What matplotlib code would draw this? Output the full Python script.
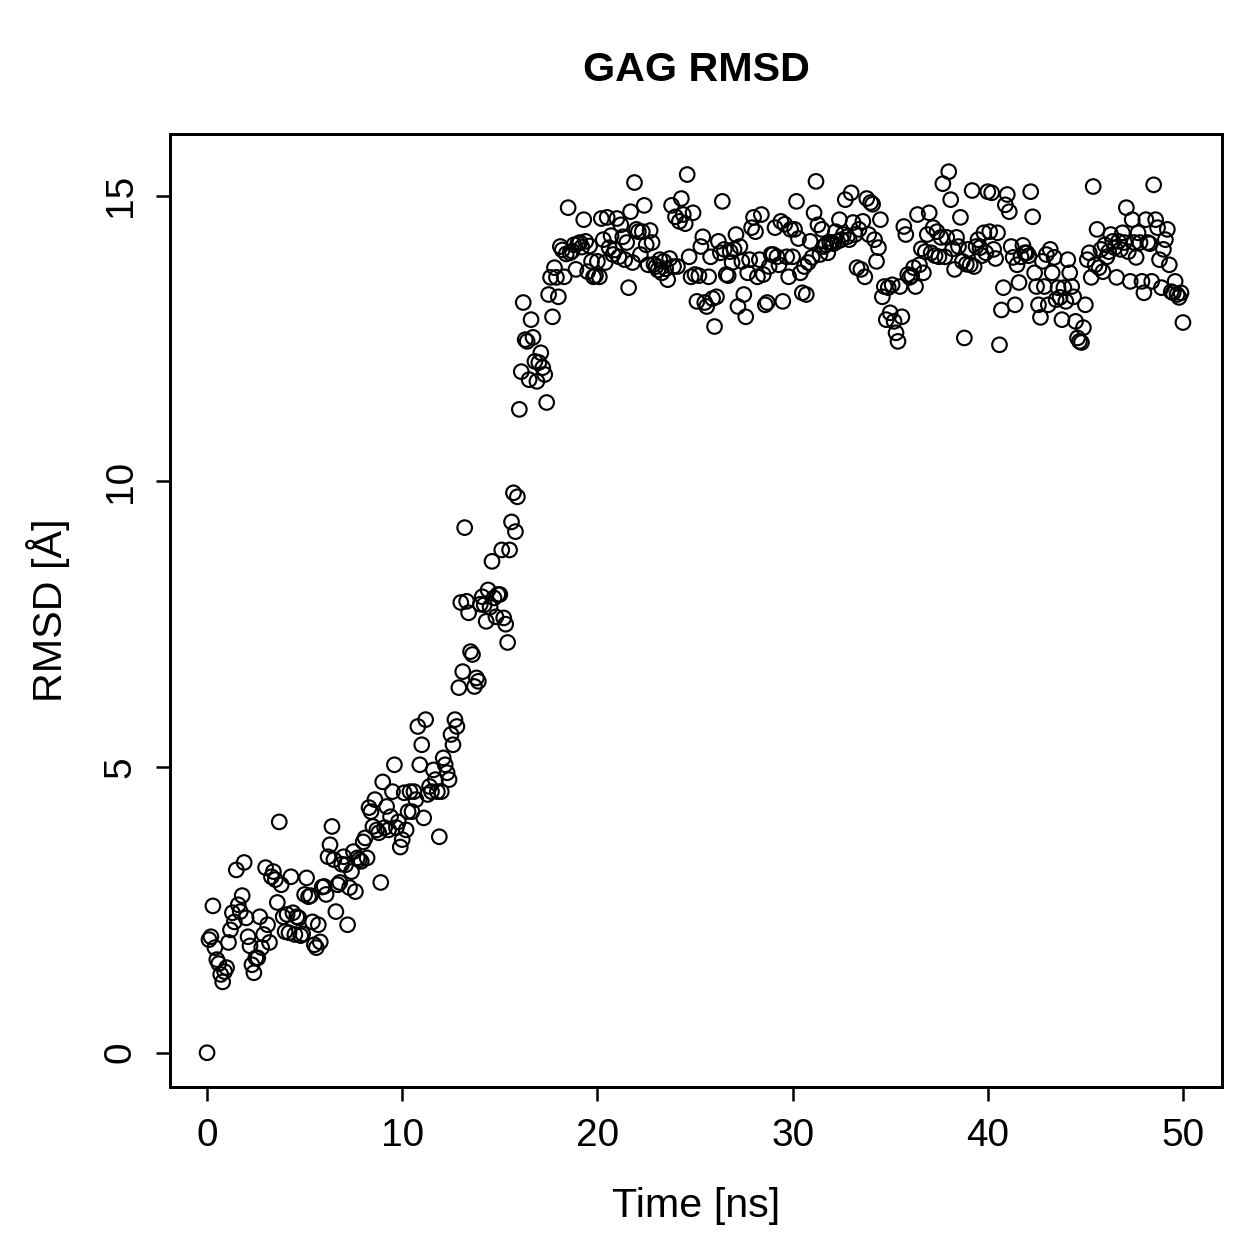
import numpy as np
import matplotlib
matplotlib.use("Agg")
import matplotlib.pyplot as plt

plt.rcParams['font.family'] = ['Liberation Sans', 'DejaVu Sans']

# RMSD values, one row per ns (0.1 ns steps)
rmsd_0_10 = [
    0.00, 1.98, 2.03, 2.57, 1.84, 1.63, 1.56, 1.37, 1.24, 1.42,
    1.49, 1.93, 2.15, 2.45, 2.29, 3.20, 2.59, 2.47, 2.75, 3.33,
    2.36, 2.03, 1.87, 1.54, 1.40, 1.66, 1.66, 2.38, 1.84, 2.07,
    3.24, 2.24, 1.93, 3.08, 3.17, 3.03, 2.63, 4.04, 2.94, 2.38,
    2.12, 2.42, 2.10, 3.08, 2.45, 2.07, 2.38, 2.36, 2.05, 2.08,
    2.77, 3.06, 2.73, 2.75, 2.29, 1.89, 1.84, 2.24, 1.94, 2.90,
    2.91, 2.77, 3.43, 3.64, 3.96, 3.38, 2.47, 2.94, 2.98, 3.30,
    3.43, 3.29, 2.24, 2.89, 3.17, 3.52, 2.82, 3.41, 3.38, 3.35,
    3.69, 3.76, 3.41, 4.29, 4.22, 3.96, 4.43, 3.90, 3.85, 2.98,
    4.74, 3.94, 4.31, 3.90, 4.13, 4.57, 5.04, 3.94, 4.04, 3.60,
]
rmsd_10_20 = [
    3.73, 4.55, 3.90, 4.22, 4.57, 4.22, 4.57, 4.43, 5.71, 5.04,
    5.39, 4.11, 5.83, 4.52, 4.66, 4.57, 4.95, 4.78, 4.57, 3.78,
    4.57, 5.16, 5.04, 4.90, 4.78, 5.57, 5.39, 5.83, 5.71, 6.39,
    7.88, 6.67, 9.19, 7.90, 7.70, 7.02, 6.97, 6.41, 6.56, 6.50,
    7.85, 7.98, 7.84, 7.55, 8.10, 7.80, 8.60, 7.96, 7.63, 8.02,
    8.02, 8.80, 7.61, 7.50, 7.18, 8.80, 9.29, 9.80, 9.12, 9.73,
    11.26, 11.92, 13.13, 12.48, 12.45, 11.78, 12.83, 12.52, 12.10, 11.75,
    12.08, 12.25, 11.99, 11.87, 11.38, 13.27, 13.57, 12.88, 13.74, 13.57,
    13.23, 14.11, 14.05, 13.58, 13.98, 14.79, 14.00, 14.03, 14.14, 13.71,
    14.16, 14.18, 14.10, 14.58, 14.20, 13.67, 14.12, 13.85, 13.58, 13.60,
]
rmsd_20_30 = [
    13.85, 13.58, 14.60, 14.23, 13.83, 14.62, 14.09, 14.30, 13.97, 14.05,
    14.60, 13.93, 14.49, 14.28, 13.88, 14.18, 13.39, 14.72, 13.83, 15.23,
    14.41, 14.37, 13.97, 14.37, 14.83, 14.14, 13.79, 14.39, 14.18, 13.80,
    13.76, 13.70, 13.88, 13.65, 13.85, 13.72, 13.53, 13.90, 14.83, 13.76,
    14.63, 13.76, 14.55, 14.95, 14.67, 14.51, 15.37, 13.93, 13.58, 14.70,
    13.62, 13.15, 13.60, 14.11, 14.28, 13.13, 13.06, 13.58, 13.93, 13.20,
    12.71, 13.23, 14.20, 14.00, 14.90, 14.06, 13.62, 13.60, 14.02, 13.83,
    14.06, 14.32, 13.06, 14.11, 13.85, 13.27, 12.88, 13.65, 13.88, 14.44,
    14.62, 14.37, 13.58, 13.88, 14.67, 13.62, 13.09, 13.13, 13.76, 13.97,
    13.97, 14.44, 13.93, 13.79, 14.55, 13.15, 14.50, 13.93, 13.58, 14.41,
]
rmsd_30_40 = [
    13.93, 14.41, 14.90, 14.25, 13.65, 13.30, 13.76, 13.27, 13.83, 14.20,
    13.92, 14.70, 15.25, 14.49, 13.97, 14.41, 14.11, 14.14, 14.00, 14.18,
    14.18, 14.16, 14.37, 14.20, 14.58, 14.23, 14.32, 14.93, 14.28, 14.23,
    15.05, 14.53, 14.32, 13.74, 14.41, 13.71, 14.55, 13.58, 14.95, 14.32,
    14.88, 14.85, 14.23, 13.85, 14.09, 14.58, 13.23, 13.41, 12.83, 13.39,
    12.95, 13.44, 12.80, 12.60, 12.45, 13.41, 12.88, 14.46, 14.32, 13.62,
    13.57, 13.60, 13.74, 13.41, 14.67, 13.79, 14.07, 13.65, 14.02, 14.32,
    14.70, 14.00, 14.44, 13.95, 14.37, 13.93, 14.27, 15.21, 13.93, 14.27,
    15.42, 14.93, 14.07, 13.71, 14.27, 14.11, 14.62, 13.85, 12.51, 13.80,
    14.06, 13.79, 15.09, 13.76, 14.11, 14.23, 14.09, 13.95, 14.35, 14.00,
]
rmsd_40_50 = [
    15.07, 14.37, 15.05, 14.06, 13.90, 14.35, 12.39, 13.00, 13.39, 14.84,
    15.02, 14.72, 14.11, 13.92, 13.09, 13.79, 13.48, 13.93, 14.13, 14.00,
    14.00, 13.95, 15.07, 14.63, 13.65, 13.41, 13.09, 12.87, 13.85, 13.41,
    13.97, 13.09, 14.06, 13.65, 13.92, 13.18, 13.39, 13.22, 12.83, 13.39,
    13.15, 13.88, 13.65, 13.41, 13.23, 12.80, 12.51, 12.45, 12.43, 12.69,
    13.09, 13.88, 14.00, 13.57, 15.16, 13.79, 14.41, 13.74, 14.06, 13.67,
    14.14, 13.93, 14.02, 14.32, 14.20, 14.09, 13.57, 14.20, 14.06, 14.35,
    14.18, 14.79, 14.02, 13.50, 14.58, 14.18, 13.92, 14.35, 14.18, 13.50,
    13.30, 14.58, 14.18, 14.16, 13.50, 15.19, 14.58, 14.44, 13.88, 13.39,
    14.06, 14.23, 14.41, 13.79, 13.32, 13.30, 13.50, 13.27, 13.22, 13.30,
    12.78,
]

rmsd = np.array(rmsd_0_10 + rmsd_10_20 + rmsd_20_30 + rmsd_30_40 + rmsd_40_50)
time_ns = np.arange(len(rmsd)) * 0.1

fig = plt.figure(figsize=(1259 / 180, 1259 / 180), dpi=180)
ax = fig.add_axes([0.135, 0.1366, 0.8356, 0.757])

ax.scatter(time_ns, rmsd, s=34, facecolors='none', edgecolors='black', linewidths=0.85)

ax.set_xlim(-1.9, 52.0)
ax.set_ylim(-0.6, 16.08)
ax.set_xticks([0, 10, 20, 30, 40, 50])
ax.set_yticks([0, 5, 10, 15])
ax.tick_params(direction='out', length=5.5, width=1.0, labelsize=15.5, pad=7)
for lab in ax.get_yticklabels():
    lab.set_rotation(90)
    lab.set_va('center')
for sp in ax.spines.values():
    sp.set_linewidth(1.2)

ax.set_xlabel("Time [ns]", fontsize=16.5, labelpad=13)
ax.set_ylabel("RMSD [Å]", fontsize=16.5, labelpad=13)
ax.set_title("GAG RMSD", fontsize=16.5, fontweight='bold', pad=21)

fig.savefig("out.png", dpi=180)
